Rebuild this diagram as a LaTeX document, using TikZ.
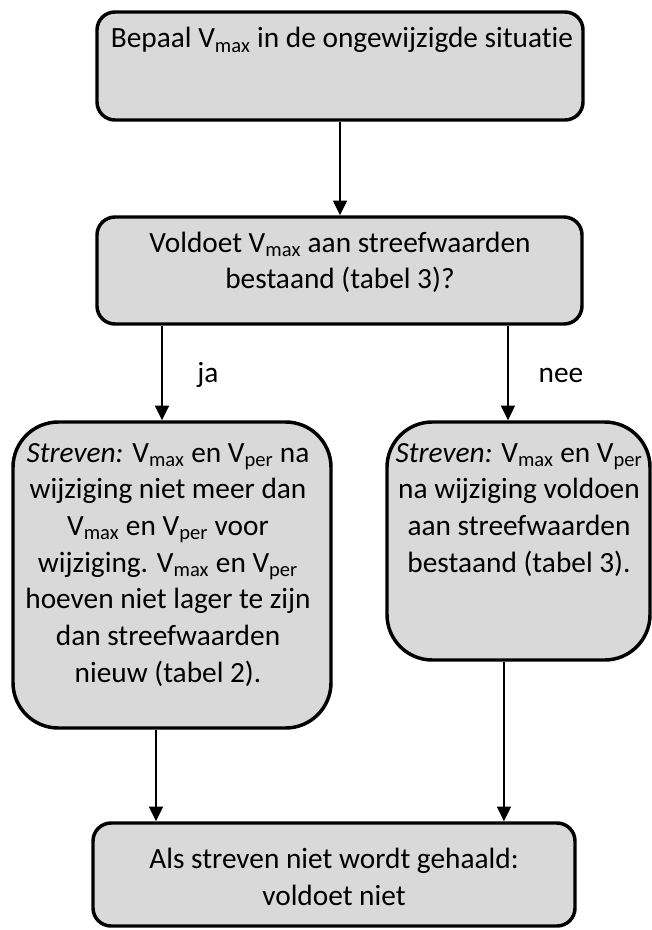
\documentclass[tikz,border=0pt]{standalone}
\usepackage{fontspec}
\setmainfont{Carlito}[Ligatures=NoCommon]
\usepackage{xcolor}
\usetikzlibrary{arrows.meta}
\definecolor{boxgray}{RGB}{217,217,217}

\tikzset{
  box/.style={draw=black, line width=2.6pt, fill=boxgray, rounded corners=13.5pt, inner sep=0pt},
  tallbox/.style={box, rounded corners=34pt},
  txt/.style={anchor=base, align=center, inner sep=0pt, font=\fontsize{22}{27.5}\selectfont},
  arr/.style={line width=1.1pt, -{Triangle[width=10.5pt,length=11pt]}},
}

\begin{document}
\begin{tikzpicture}[x=0.75pt, y=-0.75pt]
    \useasboundingbox (0,0) rectangle (652,930);

    % Create boxes
    \node[box, minimum width=364.5pt, minimum height=81pt] (B1) at (340,66) {};
    \node[box, minimum width=363.75pt, minimum height=80.25pt] (B2) at (339.5,270.5) {};
    \node[tallbox, minimum width=238.5pt, minimum height=229.5pt] (B3) at (172,575) {};
    \node[tallbox, minimum width=197.25pt, minimum height=178.5pt] (B4) at (518.5,541) {};
    \node[box, minimum width=361.5pt, minimum height=77.25pt] (B5) at (334,874.5) {};

    % Box texts (placed at the baseline of their last line)
    \node[txt] (T1) at (342,48) {Bepaal V\textsubscript{max} in de ongewijzigde situatie};
    \node[txt] (T2) at (340,288.7) {Voldoet V\textsubscript{max} aan streefwaarden\\bestaand (tabel 3)?};
    \node[txt] (T3) at (168,682) {\textit{Streven:} V\textsubscript{max} en V\textsubscript{per} na\\wijziging niet meer dan\\V\textsubscript{max} en V\textsubscript{per} voor\\wijziging. V\textsubscript{max} en V\textsubscript{per}\\hoeven niet lager te zijn\\dan streefwaarden\\nieuw (tabel 2).};
    \node[txt] (T4) at (519,572) {\textit{Streven:} V\textsubscript{max} en V\textsubscript{per}\\na wijziging voldoen\\aan streefwaarden\\bestaand (tabel 3).};
    \node[txt] (T5) at (334,905) {Als streven niet wordt gehaald:\\voldoet niet};

    % Draw arrows
    \draw[arr] (B1.south) -- (B1.south |- B2.north);
    \draw[arr] ([xshift=-7.5pt]B3.north |- B2.south) -- ([xshift=-7.5pt]B3.north);
    \draw[arr] ([xshift=-7.9pt]B4.north |- B2.south) -- ([xshift=-7.9pt]B4.north);
    \draw[arr] ([xshift=-12pt]B3.south) -- ([xshift=-12pt]B3.south |- B5.north);
    \draw[arr] ([xshift=-10.9pt]B4.south) -- ([xshift=-10.9pt]B4.south |- B5.north);

    % Branch labels
    \node[txt] (ja) at (208,382) {ja};
    \node[txt] (nee) at (561,382) {nee};
\end{tikzpicture}
\end{document}
